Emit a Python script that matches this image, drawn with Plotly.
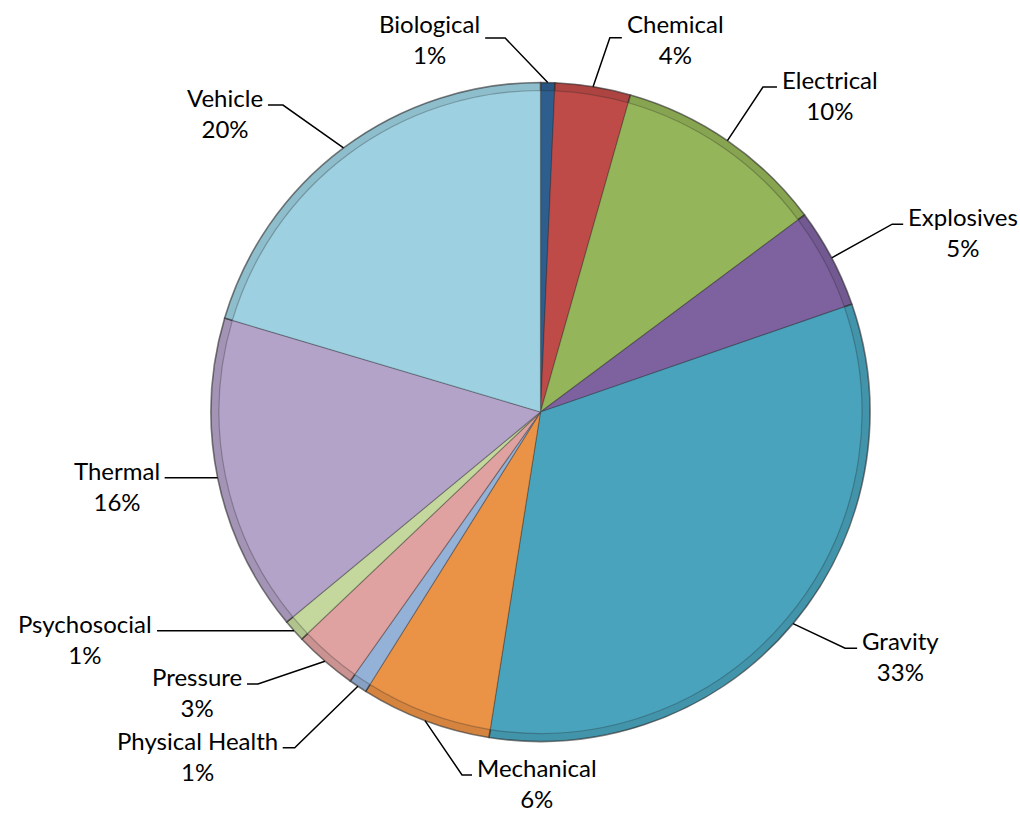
import math
import plotly.graph_objects as go

# ---------------- data ----------------
categories = ["Biological", "Chemical", "Electrical", "Explosives", "Gravity",
              "Mechanical", "Physical Health", "Pressure", "Psychosocial",
              "Thermal", "Vehicle"]
shares = [0.7, 3.7, 10.4, 4.9, 32.8, 6.4, 0.9, 3.1, 1.1, 15.6, 20.4]

# ---------------- style ----------------
colors = ["#2D5E8E", "#BF4B48", "#95B55A", "#7E62A0", "#49A3BC", "#EA9246",
          "#94B2D8", "#DFA2A1", "#C4D89D", "#B4A3C9", "#9DD0E1"]

W, H = 1020, 814
CX, CY, R = 540.5, 412.0, 329.5   # pie centre / radius in pixels
BEVEL = 8                          # width of the bevel band in pixels
FONT = "Lato"
FONT_SIZE = 24

# label placement: elbow polar position (deg clockwise from 12 o'clock, radius factor),
# horizontal run (px), side of text, text-centre offset below the leader (px)
label_layout = {
    "Biological":      (354.6, 1.140, 20, "left", 1),
    "Chemical":        (10.5, 1.155, 12, "right", 1),
    "Electrical":      (34.4, 1.195, 14, "right", 8),
    "Explosives":      (61.9, 1.210, 11, "right", 8),
    "Gravity":         (127.8, 1.170, 12, "right", 8),
    "Mechanical":      (192.2, 1.127, 10, "right", 8),
    "Physical Health": (216.2, 1.263, 12, "left", 8),
    "Pressure":        (226.1, 1.190, 11, "left", 8),
    "Psychosocial":    (None, 1.0, 137, "left", 8),
    "Thermal":         (None, 1.0, 53, "left", 8),
    "Vehicle":         (320.0, 1.216, 15, "left", 8),
}


def shade(hex_color, f):
    h = hex_color.lstrip("#")
    r, g, b = (int(h[i:i + 2], 16) for i in (0, 2, 4))
    r, g, b = (int(c * (1 - f)) for c in (r, g, b))
    return f"rgb({r},{g},{b})"


def px2paper(x, y):
    return x / W, 1 - y / H


def polar(angle_deg, r):
    a = math.radians(angle_deg)
    return CX + r * math.sin(a), CY - r * math.cos(a)


def pie_domain(radius):
    return dict(x=[(CX - radius) / W, (CX + radius) / W],
                y=[1 - (CY + radius) / H, 1 - (CY - radius) / H])


fig = go.Figure()
# outer bevel band (slightly darker)
fig.add_trace(go.Pie(
    labels=categories, values=shares, sort=False, direction="clockwise",
    rotation=0, textinfo="none", hoverinfo="skip",
    marker=dict(colors=[shade(c, 0.09) for c in colors],
                line=dict(color="rgba(40,40,40,0.6)", width=1.6)),
    domain=pie_domain(R), showlegend=False,
))
# inner face
fig.add_trace(go.Pie(
    labels=categories, values=shares, sort=False, direction="clockwise",
    rotation=0, textinfo="none", hoverinfo="label+percent",
    marker=dict(colors=colors, line=dict(color="rgba(40,40,40,0.3)", width=1.2)),
    domain=pie_domain(R - BEVEL), showlegend=False,
))

total = sum(shares)
cum = 0.0
annotations = []
shapes = []
for cat, val in zip(categories, shares):
    mid_angle = (cum + val / 2) / total * 360
    cum += val
    ang, rf, hlen, side, dy = label_layout[cat]
    start = polar(mid_angle, R)
    elbow = start if ang is None else polar(ang, R * rf)
    sign = -1 if side == "left" else 1
    end = (elbow[0] + sign * hlen, elbow[1])
    p0, p1, p2 = px2paper(*start), px2paper(*elbow), px2paper(*end)
    shapes.append(dict(type="path", xref="paper", yref="paper",
                       path=f"M {p0[0]},{p0[1]} L {p1[0]},{p1[1]} L {p2[0]},{p2[1]}",
                       line=dict(color="black", width=1.5)))
    pct = round(val / total * 100)
    tx, ty = px2paper(end[0] + sign * 3, end[1] + dy)
    annotations.append(dict(
        x=tx, y=ty, xref="paper", yref="paper", showarrow=False,
        text=f"{cat}<br>{pct}%", align="center",
        xanchor="right" if side == "left" else "left", yanchor="middle",
        font=dict(family=FONT, size=FONT_SIZE, color="black"),
    ))

fig.update_layout(
    width=W, height=H, autosize=False,
    margin=dict(l=0, r=0, t=0, b=0),
    paper_bgcolor="white", plot_bgcolor="white",
    annotations=annotations, shapes=shapes,
)

fig.write_html("out.html", config={"displayModeBar": False},
               post_script="document.body.style.margin='0';")
